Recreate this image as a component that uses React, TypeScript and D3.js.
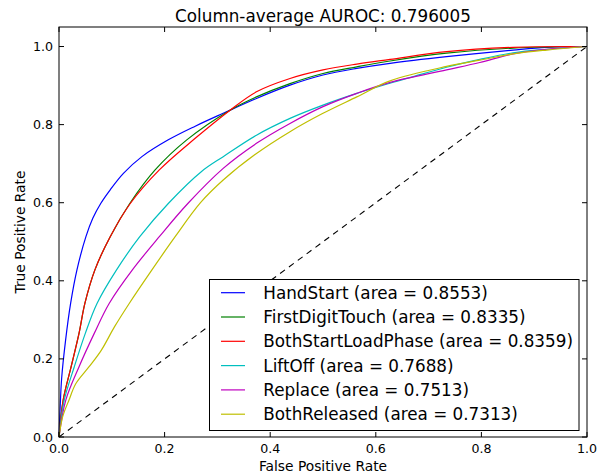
import React from 'react';
import * as d3 from 'd3';

const title = 'Column-average AUROC: 0.796005';

const seriesNames = ['HandStart', 'FirstDigitTouch', 'BothStartLoadPhase', 'LiftOff', 'Replace', 'BothReleased'];
const seriesAreas = ['0.8553', '0.8335', '0.8359', '0.7688', '0.7513', '0.7313'];
const seriesColors = ['#0000ff', '#008000', '#ff0000', '#00bfbf', '#bf00bf', '#bfbf00'];

// points (false positive rate, true positive rate)
const handStartFpr = [0, 0.002, 0.005, 0.0125, 0.022, 0.034, 0.051, 0.064, 0.079, 0.097, 0.122, 0.157, 0.207, 0.258, 0.311, 0.374, 0.4375, 0.5, 0.564, 0.627, 0.734, 0.86, 0.924, 1];
const handStartTpr = [0, 0.07, 0.15, 0.248, 0.342, 0.428, 0.513, 0.56, 0.598, 0.633, 0.675, 0.718, 0.761, 0.796, 0.829, 0.867, 0.901, 0.927, 0.944, 0.957, 0.974, 0.991, 0.998, 1];

const firstDigitFpr = [0, 0.008, 0.023, 0.038, 0.049, 0.068, 0.097, 0.134, 0.182, 0.242, 0.324, 0.374, 0.4375, 0.5, 0.564, 0.627, 0.734, 0.86, 1];
const firstDigitTpr = [0, 0.095, 0.18, 0.266, 0.342, 0.428, 0.513, 0.598, 0.684, 0.761, 0.837, 0.871, 0.905, 0.931, 0.948, 0.963, 0.983, 0.996, 1];

const loadPhaseFpr = [0, 0.008, 0.023, 0.038, 0.049, 0.068, 0.097, 0.135, 0.19, 0.258, 0.324, 0.374, 0.4375, 0.5, 0.564, 0.627, 0.734, 0.86, 1];
const loadPhaseTpr = [0, 0.095, 0.18, 0.266, 0.342, 0.428, 0.513, 0.598, 0.684, 0.765, 0.837, 0.884, 0.918, 0.94, 0.955, 0.967, 0.987, 0.998, 1];

const liftOffFpr = [0, 0.01, 0.029, 0.05, 0.072, 0.109, 0.153, 0.207, 0.27, 0.311, 0.374, 0.4375, 0.5, 0.564, 0.627, 0.671, 0.734, 0.797, 0.86, 0.924, 1];
const liftOffTpr = [0, 0.095, 0.18, 0.266, 0.342, 0.428, 0.513, 0.598, 0.68, 0.718, 0.773, 0.816, 0.85, 0.88, 0.906, 0.923, 0.947, 0.967, 0.984, 0.993, 1];

const replaceFpr = [0, 0.013, 0.038, 0.067, 0.095, 0.139, 0.19, 0.244, 0.311, 0.374, 0.4375, 0.5, 0.564, 0.627, 0.734, 0.797, 0.86, 0.924, 1];
const replaceTpr = [0, 0.095, 0.18, 0.266, 0.342, 0.428, 0.513, 0.598, 0.688, 0.752, 0.803, 0.846, 0.88, 0.908, 0.94, 0.959, 0.981, 0.993, 1];

const releasedFpr = [0, 0.007, 0.019, 0.032, 0.057, 0.08, 0.105, 0.133, 0.176, 0.22, 0.268, 0.311, 0.374, 0.4375, 0.5, 0.564, 0.627, 0.734, 0.797, 0.86, 0.924, 1];
const releasedTpr = [0, 0.052, 0.095, 0.137, 0.18, 0.222, 0.282, 0.342, 0.428, 0.513, 0.6, 0.658, 0.726, 0.782, 0.829, 0.871, 0.912, 0.949, 0.965, 0.981, 0.991, 1];

const fprs = [handStartFpr, firstDigitFpr, loadPhaseFpr, liftOffFpr, replaceFpr, releasedFpr];
const tprs = [handStartTpr, firstDigitTpr, loadPhaseTpr, liftOffTpr, replaceTpr, releasedTpr];

const xTicks = [0, 0.2, 0.4, 0.6, 0.8, 1.0];
const yTicks = [0, 0.2, 0.4, 0.6, 0.8, 1.0];

const W = 597;
const H = 475;
const font = '"DejaVu Sans", sans-serif';

const App: React.FC = () => {
  const left = 59, right = 587, top = 27, bottom = 437;
  const x = d3.scaleLinear().domain([0, 1]).range([left, right]);
  const y = d3.scaleLinear().domain([0, 1.05]).range([bottom, top]);

  const line = d3.line<[number, number]>()
    .x(d => x(d[0]))
    .y(d => y(d[1]))
    .curve(d3.curveCatmullRom.alpha(0.5));

  const tickLen = 5;
  const legX = 209.5, legY = 279.5, legW = 369.5, legH = 151;
  const rowH = 24.3;

  return (
    <svg width={W} height={H} style={{ position: 'absolute', left: 0, top: 0, background: '#fff' }} fontFamily={font}>
      <rect x={0} y={0} width={W} height={H} fill="#fff" />

      {/* chance line */}
      <line x1={x(0)} y1={y(0)} x2={x(1)} y2={y(1)} stroke="#000" strokeWidth={1.1} strokeDasharray="6,5" />

      {fprs.map((fp, i) => (
        <path key={seriesNames[i]}
          d={line(fp.map((v, j) => [v, tprs[i][j]] as [number, number])) || ''}
          fill="none" stroke={seriesColors[i]} strokeWidth={1.2} />
      ))}

      {/* ticks, inside on all four sides */}
      {xTicks.map(t => (
        <g key={'x' + t}>
          <line x1={x(t)} x2={x(t)} y1={bottom} y2={bottom - tickLen} stroke="#000" />
          <line x1={x(t)} x2={x(t)} y1={top} y2={top + tickLen} stroke="#000" />
          <text x={x(t)} y={452.5} textAnchor="middle" fontSize={12.6} fill="#000">{t.toFixed(1)}</text>
        </g>
      ))}
      {yTicks.map(t => (
        <g key={'y' + t}>
          <line x1={left} x2={left + tickLen} y1={y(t)} y2={y(t)} stroke="#000" />
          <line x1={right} x2={right - tickLen} y1={y(t)} y2={y(t)} stroke="#000" />
          <text x={53} y={y(t)} dy="0.36em" textAnchor="end" fontSize={12.6} fill="#000">{t.toFixed(1)}</text>
        </g>
      ))}

      <rect x={left} y={top} width={right - left} height={bottom - top} fill="none" stroke="#000" strokeWidth={1} />

      {/* legend */}
      <rect x={legX} y={legY} width={legW} height={legH} fill="#fff" stroke="#000" strokeWidth={1} />
      {seriesNames.map((name, i) => {
        const cy = 292.7 + i * rowH;
        return (
          <g key={'leg' + name}>
            <line x1={221} x2={245} y1={cy} y2={cy} stroke={seriesColors[i]} strokeWidth={1.2} />
            <text x={263.3} y={cy} dy="0.36em" fontSize={16.8} fill="#000">
              {`${name} (area = ${seriesAreas[i]})`}
            </text>
          </g>
        );
      })}

      <text x={(left + right) / 2} y={22} textAnchor="middle" fontSize={16.8} fill="#000">{title}</text>
      <text x={(left + right) / 2} y={471} textAnchor="middle" fontSize={13.8} fill="#000">False Positive Rate</text>
      <text transform={`translate(25,${(top + bottom) / 2}) rotate(-90)`} textAnchor="middle" fontSize={13.8} fill="#000">True Positive Rate</text>
    </svg>
  );
};

export default App;
